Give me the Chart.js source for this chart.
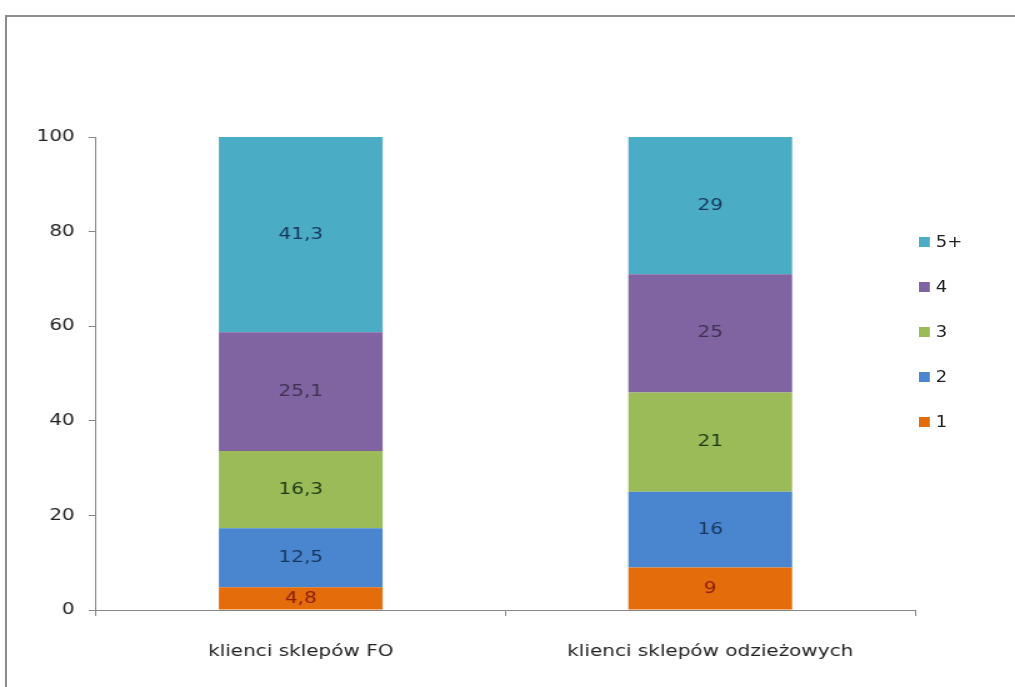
<!DOCTYPE html>
<html>
<head>
<meta charset="utf-8">
<script src="https://cdn.jsdelivr.net/npm/chart.js@4/dist/chart.umd.min.js"></script>
<style>
  html, body { margin: 0; padding: 0; background: #fff; overflow: hidden; }
  #frame {
    position: absolute; left: 5px; top: 15px; right: 0; bottom: 0;
    border-top: 2px solid #8c8c8c; border-left: 2px solid #8c8c8c;
  }
  /* the drawing is widened a little; glyphs come out broad like the old export */
  #wrap {
    position: absolute; left: 0; top: 0; width: 812px; height: 687px;
    transform: scaleX(1.25); transform-origin: left top;
  }
  #legend {
    position: absolute; left: 919px; top: 233px; margin: 0; padding: 0;
    list-style: none; font: 15px "DejaVu Sans", sans-serif; color: #222;
    transform: scaleX(1.2); transform-origin: left top;
  }
  #legend li { height: 45px; display: flex; align-items: flex-start; }
  #legend span.box { width: 9px; height: 10px; margin: 4px 5px 0 0; display: inline-block; }
</style>
</head>
<body>
<div id="frame"></div>
<div id="wrap"><canvas id="chart" width="812" height="687"></canvas></div>
<ul id="legend"></ul>
<script>
document.addEventListener('DOMContentLoaded', function() {
    // Share of customers by number of visits (percent)
    const categories = ['klienci sklepów FO', 'klienci sklepów odzieżowych'];
    const seriesNames = ['1', '2', '3', '4', '5+'];
    const visits1 = [4.8, 9];
    const visits2 = [12.5, 16];
    const visits3 = [16.3, 21];
    const visits4 = [25.1, 25];
    const visits5plus = [41.3, 29];
    const yTicks = [0, 20, 40, 60, 80, 100];

    const fills = ['#e46c0a', '#4a86cf', '#9bbb59', '#8064a2', '#4bacc6'];
    const labelColors = ['#8a1f05', '#17365d', '#1e3a14', '#3f3151', '#16365c'];

    const datasets = [visits1, visits2, visits3, visits4, visits5plus].map(function(values, i) {
        return {
            label: seriesNames[i],
            data: values,
            backgroundColor: fills[i],
            barPercentage: 0.4,
            categoryPercentage: 1.0
        };
    });

    const font = { family: '"DejaVu Sans", sans-serif', size: 16 };

    // value labels in the middle of each segment, Polish decimal comma
    const segmentLabels = {
        id: 'segmentLabels',
        afterDatasetsDraw(chart) {
            const ctx = chart.ctx;
            ctx.save();
            ctx.font = font.size + 'px ' + font.family;
            ctx.textAlign = 'center';
            ctx.textBaseline = 'middle';
            chart.data.datasets.forEach(function(ds, i) {
                chart.getDatasetMeta(i).data.forEach(function(bar, j) {
                    const p = bar.getCenterPoint();
                    ctx.fillStyle = labelColors[i];
                    ctx.fillText(String(ds.data[j]).replace('.', ','), p.x, p.y);
                });
            });
            ctx.restore();
        }
    };

    new Chart(document.getElementById('chart'), {
        type: 'bar',
        data: { labels: categories, datasets: datasets },
        plugins: [segmentLabels],
        options: {
            responsive: false,
            animation: false,
            layout: { padding: { top: 137, right: 80, left: 0, bottom: 0 } },
            plugins: {
                legend: { display: false },
                tooltip: { enabled: false }
            },
            scales: {
                x: {
                    stacked: true,
                    grid: { drawOnChartArea: false, tickLength: 6, color: '#868686' },
                    border: { color: '#868686' },
                    ticks: { color: '#222', font: font, padding: 26 },
                    afterFit: function(s) { s.height = 77; }
                },
                y: {
                    stacked: true,
                    min: 0,
                    max: 100,
                    afterBuildTicks: function(s) { s.ticks = yTicks.map(v => ({ value: v })); },
                    grid: { drawOnChartArea: false, tickLength: 6, color: '#868686' },
                    border: { color: '#868686' },
                    ticks: { color: '#222', font: font, padding: 11 },
                    afterFit: function(s) { s.width = 76.8; }
                }
            }
        }
    });

    // legend on the right, top entry is the top segment
    const list = document.getElementById('legend');
    seriesNames.slice().reverse().forEach(function(name) {
        const i = seriesNames.indexOf(name);
        const li = document.createElement('li');
        const box = document.createElement('span');
        box.className = 'box';
        box.style.background = fills[i];
        li.appendChild(box);
        li.appendChild(document.createTextNode(name));
        list.appendChild(li);
    });
});
</script>
</body>
</html>
